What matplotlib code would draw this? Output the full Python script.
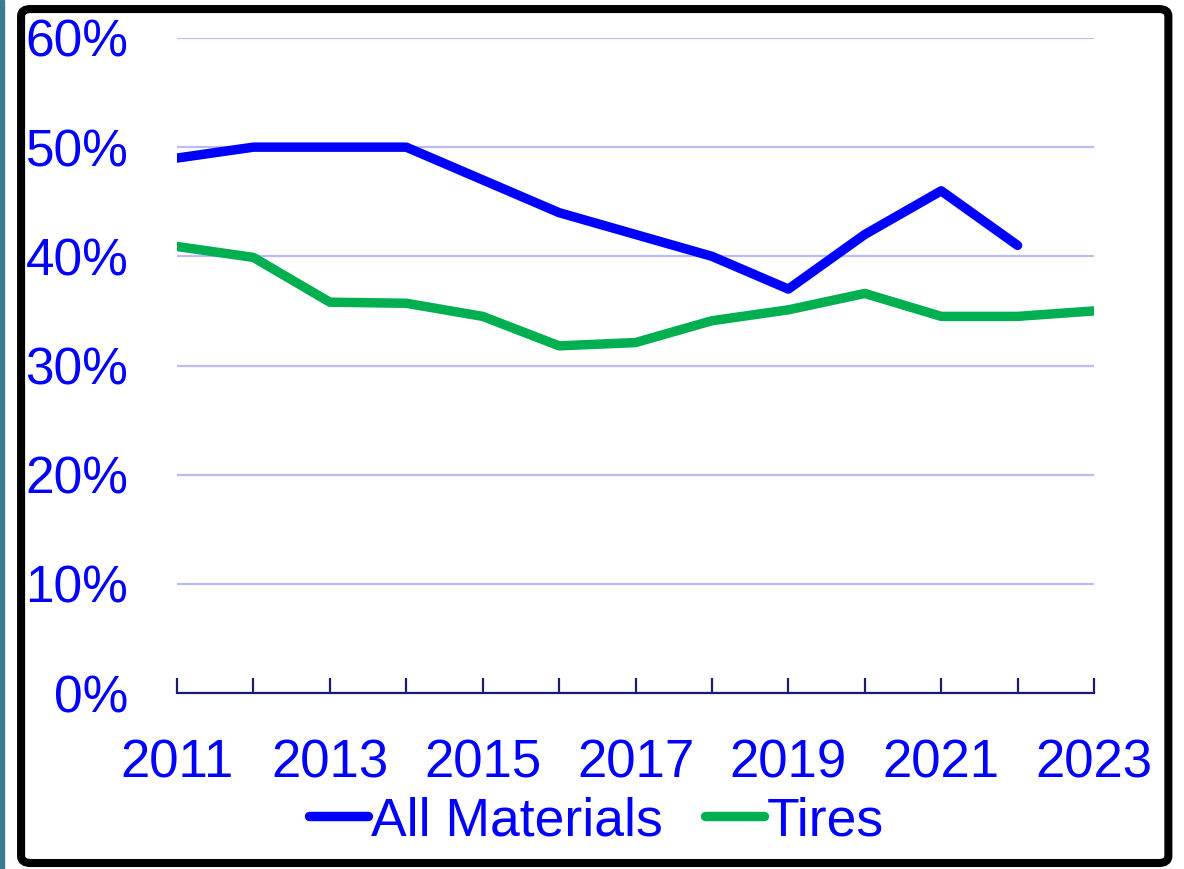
import numpy as np
import matplotlib
matplotlib.use("Agg")
import matplotlib.pyplot as plt
from matplotlib.patches import FancyBboxPatch, Rectangle

plt.rcParams['font.family'] = ['Liberation Sans', 'DejaVu Sans']

years = list(range(2011, 2024))
all_materials = [0.49, 0.50, 0.50, 0.50, 0.47, 0.44, 0.42, 0.40, 0.37, 0.42, 0.46, 0.41, np.nan]
tires = [0.409, 0.399, 0.358, 0.357, 0.345, 0.318, 0.321, 0.341, 0.351, 0.366, 0.345, 0.345, 0.350]
x_labels = ['2011', '', '2013', '', '2015', '', '2017', '', '2019', '', '2021', '', '2023']

blue = '#0000ff'
green = '#00b050'

fig = plt.figure(figsize=(11.84, 8.69), dpi=100)
ax = fig.add_axes([0.1495, 0.2025, 0.7745, 0.7538])

ax.plot(years, all_materials, color=blue, lw=6.8, solid_capstyle='round',
        solid_joinstyle='round', label='All Materials')
ax.plot(years, tires, color=green, lw=6.8, solid_capstyle='round',
        solid_joinstyle='round', label='Tires')

ax.set_xlim(2011, 2023)
ax.set_ylim(0, 0.6)
ax.set_yticks(np.arange(0, 0.61, 0.1))
ax.set_yticklabels([f'{int(round(v*100))}%' for v in np.arange(0, 0.61, 0.1)])
ax.set_xticks(years)
ax.set_xticklabels(x_labels)

ax.grid(axis='y', color='#bcbcf4', lw=1.6)
ax.set_axisbelow(True)
for s in ['left', 'right', 'top']:
    ax.spines[s].set_visible(False)
ax.spines['bottom'].set_color('#1c1c6c')
ax.spines['bottom'].set_linewidth(1.6)

ax.tick_params(axis='x', direction='in', length=11, width=1.6, color='#1c1c6c',
               labelsize=38, labelcolor=blue, pad=33)
ax.tick_params(axis='y', length=0, labelsize=37, labelcolor=blue, pad=35)

fig.legend(loc='center', bbox_to_anchor=(0.504, 0.055), ncol=2, frameon=False,
           fontsize=38.5, labelcolor=blue, handlelength=1.1, handletextpad=0.05,
           columnspacing=0.8)

# outer frame
fig.patches.append(FancyBboxPatch((0.0178, 0.0069), 0.969, 0.9827,
                                  boxstyle='round,pad=0,rounding_size=0.008',
                                  transform=fig.transFigure, fill=False,
                                  ec='black', lw=5.8))
fig.patches.append(Rectangle((0, 0), 0.0034, 1, transform=fig.transFigure,
                             color='#3d7b95'))

fig.savefig('out.png', dpi=100)
